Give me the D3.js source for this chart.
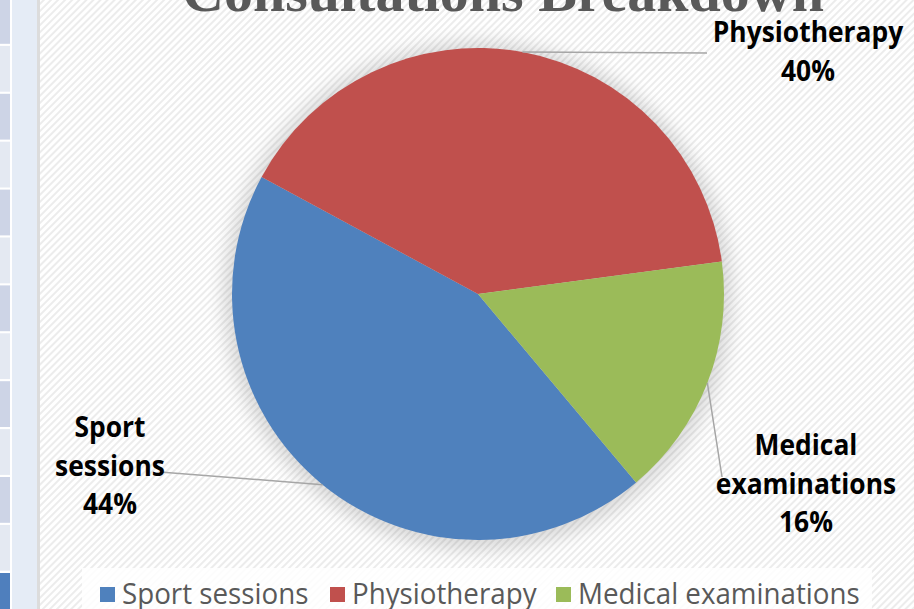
<!DOCTYPE html>
<html>
<head>
<meta charset="utf-8">
<script src="https://cdn.jsdelivr.net/npm/d3@7"></script>
<style>
  body { margin: 0; background: #fff; overflow: hidden; }
  svg { display: block; }
</style>
</head>
<body>
<div id="chart"></div>
<script>
// data
var categories = ["Sport sessions", "Physiotherapy", "Medical examinations"];
var values = [44, 40, 16];
var labelLines = [["Sport", "sessions"], ["Physiotherapy"], ["Medical", "examinations"]];
var colors = ["#4f81bd", "#c0504d", "#9bbb59"];
var title = "Consultations Breakdown";

var width = 914, height = 609;
var cx = 478, cy = 294, radius = 246;

var svg = d3.select("#chart").append("svg")
    .attr("width", width)
    .attr("height", height);

var defs = svg.append("defs");

// diagonal stripe background
var pat = defs.append("pattern")
    .attr("id", "stripes")
    .attr("patternUnits", "userSpaceOnUse")
    .attr("width", 5)
    .attr("height", 5)
    .attr("patternTransform", "rotate(45)");
pat.append("rect").attr("width", 5).attr("height", 5).attr("fill", "#ffffff");
pat.append("rect").attr("width", 2).attr("height", 5).attr("fill", "#ececec");

var blur = defs.append("filter").attr("id", "soft")
    .attr("x", "-20%").attr("y", "-20%").attr("width", "140%").attr("height", "140%");
blur.append("feGaussianBlur").attr("stdDeviation", 9);

// left slide strip
var strip = svg.append("g");
d3.range(12).forEach(function(i) {
    strip.append("rect")
        .attr("x", 0)
        .attr("y", i * 47.9 - 2)
        .attr("width", 10)
        .attr("height", 45.8)
        .attr("fill", i % 2 == 0 ? "#cdd4e6" : "#e4e9f2");
});
strip.append("rect")
    .attr("x", 0).attr("y", 573)
    .attr("width", 10).attr("height", 40)
    .attr("fill", "#4f7fbd");
strip.append("rect")
    .attr("x", 12).attr("y", 0)
    .attr("width", 26).attr("height", height)
    .attr("fill", "#e5ecf6");
strip.append("rect")
    .attr("x", 37).attr("y", 0)
    .attr("width", 3).attr("height", height)
    .attr("fill", "#dcdcdc");

// chart area background
svg.append("rect")
    .attr("x", 40).attr("y", 0)
    .attr("width", width - 40).attr("height", height)
    .attr("fill", "url(#stripes)");

// title (cut off at the top)
svg.append("text")
    .attr("x", 503)
    .attr("y", 11)
    .attr("text-anchor", "middle")
    .style("font-family", "'Liberation Serif', 'Times New Roman', serif")
    .style("font-weight", 700)
    .style("font-size", "58px")
    .style("fill", "#595959")
    .text(title);

// soft shadow behind the pie
svg.append("circle")
    .attr("cx", cx)
    .attr("cy", cy + 2)
    .attr("r", radius + 8)
    .attr("fill", "#000")
    .attr("opacity", 0.14)
    .attr("filter", "url(#soft)");

var data = categories.map(function(c, i) { return {name: c, value: values[i], lines: labelLines[i]}; });
var total = d3.sum(values);

var startA = 140 * Math.PI / 180;
var pie = d3.pie()
    .sort(null)
    .value(function(d) { return d.value; })
    .startAngle(startA)
    .endAngle(startA + 2 * Math.PI);

var arc = d3.arc().innerRadius(0).outerRadius(radius);
var color = d3.scaleOrdinal().domain(categories).range(colors);

var g = svg.append("g").attr("transform", "translate(" + cx + "," + cy + ")");
var arcs = pie(data);

g.selectAll("path.slice")
    .data(arcs)
    .enter().append("path")
    .attr("class", "slice")
    .attr("d", arc)
    .attr("fill", function(d) { return color(d.data.name); });

// labels: block centre x, first baseline y, leader end x/y (page coords)
var labelPos = [
    {x: 110, y: 437, lx: 160, ly: 472},
    {x: 808, y: 42, lx: 707, ly: 53},
    {x: 806, y: 455, lx: 722, ly: 477}
];
var fmt = d3.format(".0%");

function squeeze(sel, f) {
    sel.each(function() {
        var w = this.getComputedTextLength();
        d3.select(this).attr("textLength", w * f).attr("lengthAdjust", "spacingAndGlyphs");
    });
}

arcs.forEach(function(d, i) {
    var p = labelPos[i];
    var a = (d.startAngle + d.endAngle) / 2;
    var sx = cx + radius * Math.sin(a), sy = cy - radius * Math.cos(a);
    svg.append("line")
        .attr("x1", sx).attr("y1", sy)
        .attr("x2", p.lx).attr("y2", p.ly)
        .attr("stroke", "#a6a6a6")
        .attr("stroke-width", 1.5);

    var lines = d.data.lines.concat([fmt(d.data.value / total)]);
    var t = svg.append("text")
        .attr("text-anchor", "middle")
        .style("font-family", "'Open Sans', sans-serif")
        .style("font-weight", 700)
        .style("font-size", "29px")
        .style("fill", "#000");
    lines.forEach(function(s, k) {
        var ts = t.append("tspan")
            .attr("x", p.x)
            .attr("y", p.y + k * 38.5)
            .text(s);
        squeeze(ts, 0.91);
    });
});

// legend
svg.append("rect")
    .attr("x", 82).attr("y", 568)
    .attr("width", 790).attr("height", 50)
    .attr("fill", "#ffffff")
    .attr("opacity", 0.85);

var legendX = [100, 330, 556];
var legend = svg.append("g");
categories.forEach(function(c, i) {
    legend.append("rect")
        .attr("x", legendX[i])
        .attr("y", 587)
        .attr("width", 15)
        .attr("height", 15)
        .attr("fill", color(c));
    var lt = legend.append("text")
        .attr("x", legendX[i] + 22)
        .attr("y", 604)
        .style("font-family", "'Open Sans', sans-serif")
        .style("font-size", "29.5px")
        .style("fill", "#595959")
        .text(c);
    squeeze(lt, 0.94);
});
</script>
</body>
</html>
